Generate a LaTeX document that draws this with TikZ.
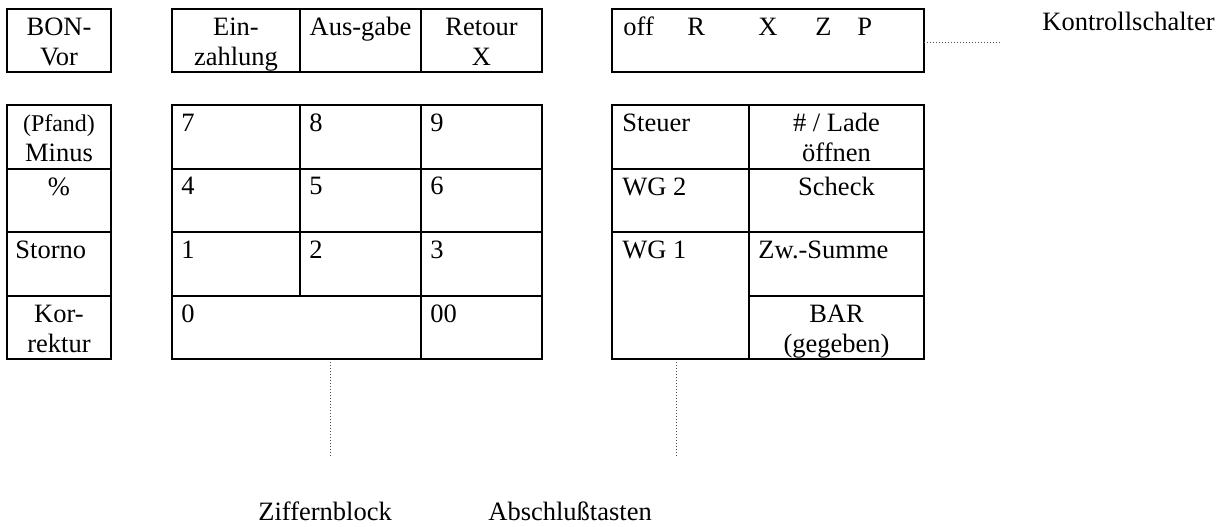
\documentclass[tikz,border=0pt]{standalone}
\usepackage{fontspec}
\setmainfont{Liberation Serif}
\usetikzlibrary{positioning}
\begin{document}
\begin{tikzpicture}[x=0.5pt,y=-0.5pt,
            every node/.append style={black,inner sep=0pt,font=\fontsize{13.25}{15}\selectfont},
            keyline/.style={line width=1pt},
            ctext/.style={anchor=north,align=center},
            ltext/.style={anchor=base west},
            leader/.style={densely dotted,black!70,line width=0.5pt}
        ]
            \useasboundingbox (0,0) rectangle (1220,526);

            % obere Reihe
            \draw[keyline] (7,9) rectangle (111,72);
            \draw[keyline] (172,9) rectangle (542,72) (300,9) -- (300,72) (421,9) -- (421,72);
            \draw[keyline] (612,9) rectangle (924,72);

            % linke Spalte
            \draw[keyline] (7,105) rectangle (111,359);
            \foreach \y in {169,232,296} \draw[keyline] (7,\y) -- (111,\y);

            % Ziffernblock
            \draw[keyline] (172,105) rectangle (542,359);
            \foreach \y in {169,232,296} \draw[keyline] (172,\y) -- (542,\y);
            \draw[keyline] (300,105) -- (300,296) (421,105) -- (421,359);

            % Abschlusstasten
            \draw[keyline] (612,105) rectangle (924,359) (749,105) -- (749,359);
            \draw[keyline] (612,169) -- (924,169) (612,232) -- (924,232) (749,296) -- (924,296);

            \node[ctext] (bonvor) at (59,14)    {\strut BON-\\Vor};
            \node[ctext] (einz)   at (236,14)   {\strut Ein-\\zahlung};
            \node[ctext] (ausg)   at (360.5,14) {\strut Aus-gabe};
            \node[ctext] (retour) at (481.5,14) {\strut Retour\\X};

            \node[ltext] (off) at (623,35) {off};
            \node[ltext] (r)   at (687,35) {R};
            \node[ltext] (x)   at (758,35) {X};
            \node[ltext] (z)   at (815,35) {Z};
            \node[ltext] (p)   at (857,35) {P};
            \node[ltext] (kontroll) at (1042,30) {Kontrollschalter};

            \node[ctext] (pfand)   at (59,110) {\strut{\fontsize{12}{15}\selectfont(Pfand)}\\Minus};
            \node[ctext] (prozent) at (59,174) {\strut\%};
            \node[ltext] (storno)  at (15,258) {Storno};
            \node[ctext] (korr)    at (59,301) {\strut Kor-\\rektur};

            \foreach \a/\b/\c [count=\i] in {7/8/9,4/5/6,1/2/3} {
                \node[ltext] (d\a) at (181,105+\i*63.5-37.5) {\a};
                \node[ltext] (d\b) at (309,105+\i*63.5-37.5) {\b};
                \node[ltext] (d\c) at (430,105+\i*63.5-37.5) {\c};
            }
            \node[ltext] (d0)  at (181,322) {0};
            \node[ltext] (d00) at (430,322) {00};

            \node[ltext] (steuer) at (622,131) {Steuer};
            \node[ltext] (wgz)    at (622,195) {WG 2};
            \node[ltext] (wge)    at (622,258) {WG 1};
            \node[ctext] (lade)   at (836.5,110) {\strut\#~/ Lade\\öffnen};
            \node[ctext] (scheck) at (836.5,174) {\strut Scheck};
            \node[ltext] (zws)    at (758,258)   {Zw.-Summe};
            \node[ctext] (bar)    at (836.5,301) {\strut BAR\\(gegeben)};

            \node[ltext] (ziff)  at (258,520) {Ziffernblock};
            \node[ltext] (absch) at (488,520) {Abschlußtasten};

            \coordinate (zt) at (330,362);
            \coordinate (zb) at (330,457);
            \coordinate (at) at (676,362);
            \coordinate (ab) at (676,457);
            \coordinate (kt) at (924,42);
            \coordinate (ke) at (1000,42);

            \draw[leader] (zt) -- (zb);
            \draw[leader] (at) -- (ab);
            \draw[leader] (kt) -- (ke);
        \end{tikzpicture}
\end{document}
